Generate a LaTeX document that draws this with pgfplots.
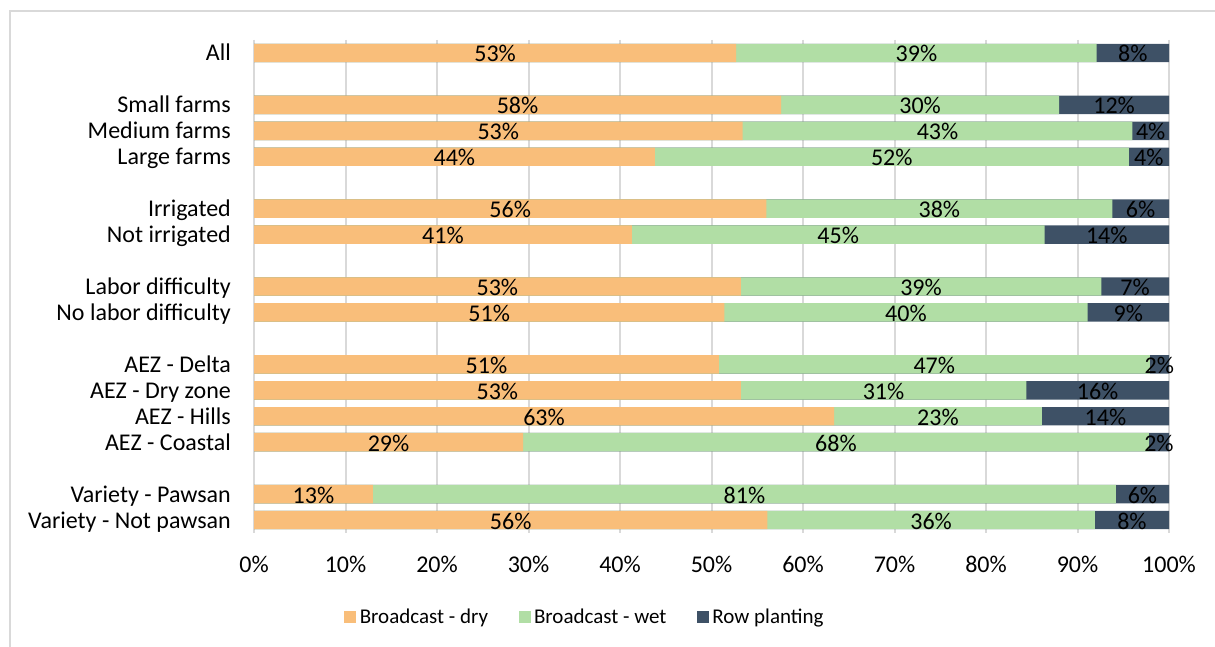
\documentclass[border=0pt]{standalone}
\usepackage{fontspec}
\setmainfont{Carlito}
\usepackage{pgfplots}
\pgfplotsset{compat=1.18}
\usepackage{pgfplotstable}

\definecolor{drycol}{RGB}{249,190,122}
\definecolor{wetcol}{RGB}{177,222,165}
\definecolor{rowcol}{RGB}{62,81,102}
\definecolor{gridcol}{RGB}{217,217,217}

% Share of plots by crop establishment method (%), one row per group
\pgfplotstableread{
pos dry  wet  row
0   52.7 39.4 7.9
2   57.6 30.4 12.0
3   53.4 42.6 4.0
4   43.8 51.8 4.4
6   56.0 37.8 6.2
7   41.3 45.1 13.6
9   53.2 39.4 7.4
10  51.4 39.7 8.9
12  50.8 47.1 2.1
13  53.2 31.2 15.6
14  63.4 22.7 13.9
15  29.4 68.4 2.2
17  13.0 81.2 5.8
18  56.1 35.8 8.1
}\shares

\newcommand{\chartfont}{\fontsize{24}{29}\selectfont}
\newcommand{\legendfont}{\fontsize{21}{25}\selectfont}

\begin{document}
\begin{tikzpicture}[x=1pt,y=1pt]
\useasboundingbox (0,0) rectangle (1215,647);
\draw[gridcol, line width=1.5pt] (10,0) -- (10,636) -- (1215,636);
\begin{axis}[
  at={(254pt,114pt)}, anchor=south west,
  scale only axis, width=915pt, height=493pt,
  xmin=0, xmax=100, ymin=-0.5, ymax=18.5, y dir=reverse,
  clip=false,
  axis line style={draw=none},
  major tick length=0pt,
  tick style={draw=none},
  xmajorgrids,
  major grid style={gridcol, line width=2pt},
  xtick={0,10,...,100},
  xticklabel={\pgfmathprintnumber[assume math mode=true]{\tick}\%},
  xticklabel style={anchor=center, yshift=-31pt, inner sep=0pt},
  ytick={0,2,3,4,6,7,9,10,12,13,14,15,17,18},
  yticklabels={All, Small farms, Medium farms, Large farms, Irrigated,
    Not irrigated, Labor difficulty, No labor difficulty, AEZ - Delta,
    AEZ - Dry zone, AEZ - Hills, AEZ - Coastal, Variety - Pawsan,
    Variety - Not pawsan},
  yticklabel style={anchor=base east, inner sep=0pt, xshift=-23pt, yshift=-8pt},
  tick label style={font=\chartfont, text=black},
  legend style={at={(axis description cs:0.3625,-0.170)}, anchor=center,
    draw=none, fill=none, font=\legendfont, legend columns=3,
    /tikz/every even column/.append style={column sep=27pt},
    nodes={inner sep=3.5pt}},
  legend cell align=left,
  reverse legend,
  legend image code/.code={\fill[#1] (0pt,-6pt) rectangle (12pt,6pt);},
  nodes near coords={\pgfmathprintnumber[fixed,precision=0,assume math mode=true]{\pgfplotspointmeta}\%},
  every node near coord/.append style={anchor=base, yshift=-9pt, inner sep=0pt,
    font=\chartfont, text=black},
]
% bars drawn as overlapping cumulative totals, longest first
\addplot[xbar, bar shift=0pt, bar width=0.71, fill=rowcol, draw=none, nodes near coords={}]
  table[x expr=\thisrow{dry}+\thisrow{wet}+\thisrow{row}, y=pos]{\shares};
\addlegendentry{Row planting}
\addplot[xbar, bar shift=0pt, bar width=0.71, fill=wetcol, draw=none, nodes near coords={}]
  table[x expr=\thisrow{dry}+\thisrow{wet}, y=pos]{\shares};
\addlegendentry{Broadcast - wet}
\addplot[xbar, bar shift=0pt, bar width=0.71, fill=drycol, draw=none, nodes near coords={}]
  table[x=dry, y=pos]{\shares};
\addlegendentry{Broadcast - dry}
% segment labels at the middle of each segment
\addplot[draw=none, mark=none, forget plot, point meta=explicit]
  table[x expr=\thisrow{dry}/2, y=pos, meta=dry]{\shares};
\addplot[draw=none, mark=none, forget plot, point meta=explicit]
  table[x expr=\thisrow{dry}+\thisrow{wet}/2, y=pos, meta=wet]{\shares};
\addplot[draw=none, mark=none, forget plot, point meta=explicit]
  table[x expr=\thisrow{dry}+\thisrow{wet}+\thisrow{row}/2, y=pos, meta=row]{\shares};
\end{axis}
\end{tikzpicture}
\end{document}
